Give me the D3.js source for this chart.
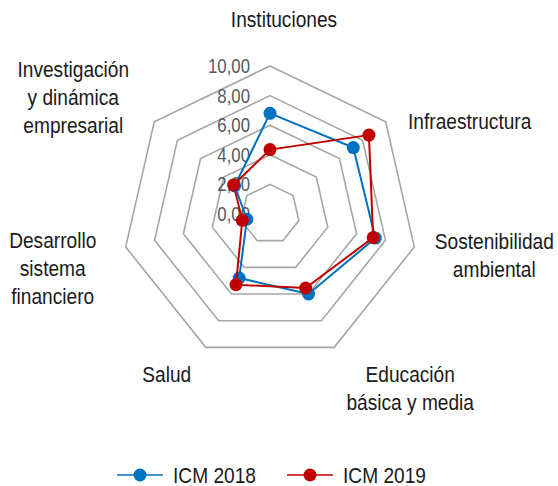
<!DOCTYPE html>
<html>
<head>
<meta charset="utf-8">
<script src="https://cdn.jsdelivr.net/npm/d3@7"></script>
<style>
  body { margin: 0; background: #fff; }
  svg text { font-family: "Liberation Sans", Arial, sans-serif; }
</style>
</head>
<body>
<svg id="chart" width="558" height="486"></svg>
<script>
var w = 558;
var h = 486;

// datos
var categories = [
  ["Instituciones"],
  ["Infraestructura"],
  ["Sostenibilidad", "ambiental"],
  ["Educación", "básica y media"],
  ["Salud"],
  ["Desarrollo", "sistema", "financiero"],
  ["Investigación", "y dinámica", "empresarial"]
];
var icm2018 = [6.8, 7.2, 7.3, 6.0, 4.8, 1.6, 3.05];
var icm2019 = [4.35, 8.55, 7.15, 5.55, 5.3, 1.92, 3.15];
var seriesNames = ["ICM 2018", "ICM 2019"];
var tickValues = [0, 2, 4, 6, 8, 10];

var colors = ["#0070C0", "#C00000"];
var cx = 270, cy = 214, R = 148;
var narrow = 0.87; // letra estrecha tipo Arial Narrow

// desplazamiento de cada etiqueta respecto al vértice exterior
var labelNudge = [[14, -39], [84, 7], [80, 2], [76, 35], [-39, 35], [-73, 1], [-81, -45]];

var svg = d3.select("#chart");
var rScale = d3.scaleLinear().domain([0, 10]).range([0, R]);
var n = categories.length;
var angle = d3.scaleLinear().domain([0, n]).range([0, 2 * Math.PI]);

function pt(i, v) {
  var a = angle(i);
  return [cx + rScale(v) * Math.sin(a), cy - rScale(v) * Math.cos(a)];
}

// anillos
tickValues.filter(d => d > 0).forEach(function (t) {
  var ring = d3.range(n).map(i => pt(i, t));
  svg.append("path")
    .attr("d", d3.line()(ring) + "Z")
    .attr("fill", "none")
    .attr("stroke", "#a6a6a6")
    .attr("stroke-width", 1.6);
});

// etiquetas del eje
svg.selectAll("text.tick")
  .data(tickValues)
  .join("text")
  .attr("class", "tick")
  .attr("transform", d => "translate(" + (cx - 20) + "," + (cy - rScale(d) + 7) + ") scale(0.84,1)")
  .attr("text-anchor", "end")
  .attr("fill", "#595959")
  .style("font-size", "20px")
  .text(d => d3.format(".2f")(d).replace(".", ","));

// series
var line = d3.line().curve(d3.curveLinearClosed);
[icm2018, icm2019].forEach(function (vals, k) {
  var pts = vals.map((v, i) => pt(i, v));
  svg.append("path")
    .attr("d", line(pts))
    .attr("fill", "none")
    .attr("stroke", colors[k])
    .attr("stroke-width", 2);
  svg.selectAll("circle.s" + k)
    .data(pts)
    .join("circle")
    .attr("class", "s" + k)
    .attr("cx", d => d[0])
    .attr("cy", d => d[1])
    .attr("r", 6.5)
    .attr("fill", colors[k]);
});

// etiquetas de categoría
categories.forEach(function (lines, i) {
  var p = pt(i, 10);
  var t = svg.append("text")
    .attr("transform", "translate(" + (p[0] + labelNudge[i][0]) + "," + (p[1] + labelNudge[i][1]) + ") scale(" + narrow + ",1)")
    .attr("text-anchor", "middle")
    .attr("fill", "#1a1a1a")
    .style("font-size", "22px");
  lines.forEach(function (s, j) {
    t.append("tspan")
      .attr("x", 0)
      .attr("y", j * 28)
      .text(s);
  });
});

// leyenda
var legendX = [117, 287];
seriesNames.forEach(function (name, k) {
  var g = svg.append("g").attr("transform", "translate(" + legendX[k] + ",475)");
  g.append("line").attr("x1", 0).attr("x2", 46)
    .attr("stroke", colors[k]).attr("stroke-width", 1.5);
  g.append("circle").attr("cx", 23).attr("r", 6.5).attr("fill", colors[k]);
  g.append("text").attr("transform", "translate(56,8) scale(" + narrow + ",1)")
    .attr("fill", "#1a1a1a").style("font-size", "22px").text(name);
});
</script>
</body>
</html>
